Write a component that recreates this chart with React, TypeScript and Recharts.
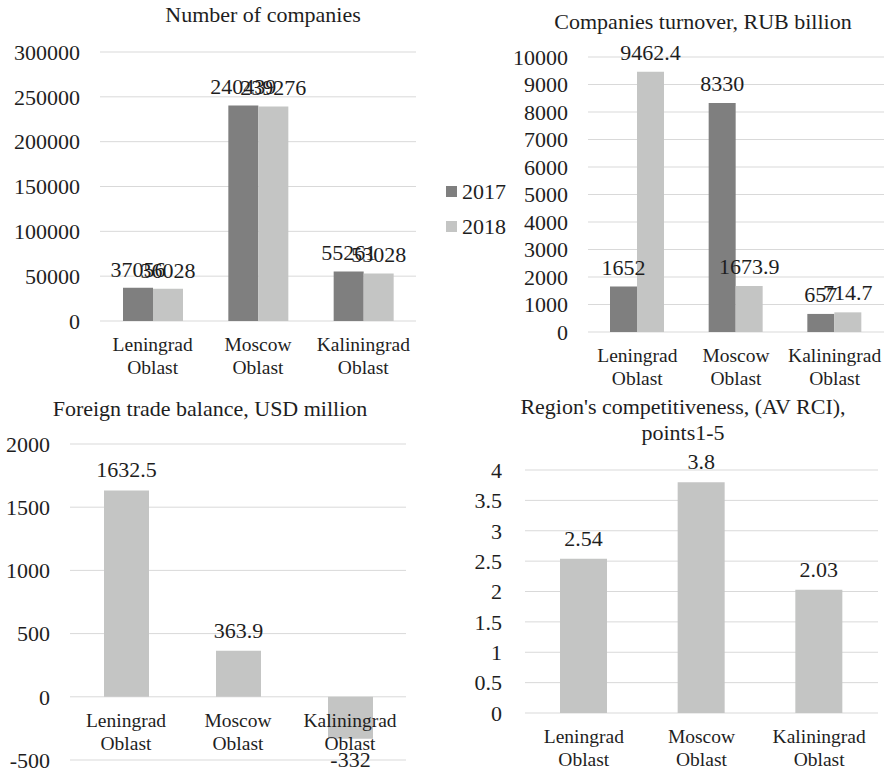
import { BarChart, Bar, XAxis, YAxis, CartesianGrid, LabelList, Legend } from 'recharts';

const regions = ['Leningrad Oblast', 'Moscow Oblast', 'Kaliningrad Oblast'];

const companies2017 = [37056, 240439, 55261];
const companies2018 = [36028, 239276, 53028];
const companiesTicks = [0, 50000, 100000, 150000, 200000, 250000, 300000];

const turnover2017 = [1652, 8330, 657];
const turnover2018 = [9462.4, 1673.9, 714.7];
const turnoverTicks = [0, 1000, 2000, 3000, 4000, 5000, 6000, 7000, 8000, 9000, 10000];

const tradeBalance = [1632.5, 363.9, -332];
const tradeTicks = [-500, 0, 500, 1000, 1500, 2000];

const competitiveness = [2.54, 3.8, 2.03];
const competitivenessTicks = [0, 0.5, 1, 1.5, 2, 2.5, 3, 3.5, 4];

const FONT = '"Liberation Serif", "Times New Roman", serif';
const TEXT = '#1e1e1e';
const DARK = '#7f7f7f';
const LIGHT = '#c4c5c4';
const GRID = '#d9d9d9';

const companiesData = regions.map((region, i) => ({
  region,
  y2017: companies2017[i],
  y2018: companies2018[i],
}));

const turnoverData = regions.map((region, i) => ({
  region,
  y2017: turnover2017[i],
  y2018: turnover2018[i],
}));

const tradeData = regions.map((region, i) => ({ region, value: tradeBalance[i] }));
const competitivenessData = regions.map((region, i) => ({ region, value: competitiveness[i] }));

// two-line category label; shift moves it up to the zero line
function RegionTick(props: any) {
  const { x, y, payload, shift = 0 } = props;
  const [first, second] = String(payload.value).split(' ');
  const top = y - shift;
  return (
    <text x={x} y={top} textAnchor="middle" fontSize={19.5} fill={TEXT} fontFamily={FONT}>
      <tspan x={x} y={top + 23} dy="0.35em">
        {first}
      </tspan>
      <tspan x={x} y={top + 46} dy="0.35em">
        {second}
      </tspan>
    </text>
  );
}

function YearLegend(props: any) {
  const { payload } = props;
  return (
    <div style={{ width: 64, fontFamily: FONT }}>
      {(payload || []).map((entry: any) => (
        <div
          key={entry.value}
          style={{ display: 'flex', alignItems: 'center', height: 35, fontSize: 22, color: TEXT }}
        >
          <span style={{ width: 11, height: 11, background: entry.color, marginRight: 5 }} />
          {entry.value}
        </div>
      ))}
    </div>
  );
}

function Title({ cx, cy, lines }: { cx: number; cy: number; lines: string[] }) {
  return (
    <div
      style={{
        position: 'absolute',
        left: cx - 220,
        top: cy - 13,
        width: 440,
        textAlign: 'center',
        fontFamily: FONT,
        fontSize: 22,
        lineHeight: '26px',
        color: TEXT,
        whiteSpace: 'nowrap',
      }}
    >
      {lines.map((l) => (
        <div key={l}>{l}</div>
      ))}
    </div>
  );
}

const tickStyle = { fontSize: 22, fill: TEXT, fontFamily: FONT };
const labelStyle = { fontSize: 22, fill: TEXT, fontFamily: FONT };

// trade balance chart geometry, used to put category labels on the zero line
const H3 = 383;
const M3 = { top: 54, right: 34, left: 0, bottom: 0 };
const X3_HEIGHT = 13;
const PLOT3_H = H3 - M3.top - M3.bottom - X3_HEIGHT;
const TRADE_SHIFT = (PLOT3_H * (0 - tradeTicks[0])) / (tradeTicks[tradeTicks.length - 1] - tradeTicks[0]);

export default function App() {
  return (
    <div
      style={{
        position: 'absolute',
        left: 0,
        top: 0,
        width: 887,
        height: 773,
        background: '#fff',
        overflow: 'hidden',
      }}
    >
      {/* Number of companies */}
      <Title cx={263} cy={15} lines={['Number of companies']} />
      <div style={{ position: 'absolute', left: 0, top: 0 }}>
        <BarChart
          width={440}
          height={390}
          data={companiesData}
          margin={{ top: 52, right: 24, left: 0, bottom: 0 }}
          barGap={0}
        >
          <CartesianGrid vertical={false} stroke={GRID} />
          <YAxis
            domain={[0, 300000]}
            ticks={companiesTicks}
            width={100}
            axisLine={false}
            tickLine={false}
            tickSize={0}
            tickMargin={20}
            tick={tickStyle}
            interval={0}
          />
          <Bar dataKey="y2017" name="2017" fill={DARK} barSize={30} isAnimationActive={false}>
            <LabelList dataKey="y2017" position="top" offset={11} style={labelStyle} />
          </Bar>
          <Bar dataKey="y2018" name="2018" fill={LIGHT} barSize={30} isAnimationActive={false}>
            <LabelList dataKey="y2018" position="top" offset={11} style={labelStyle} />
          </Bar>
          <XAxis
            dataKey="region"
            height={69}
            axisLine={false}
            tickLine={false}
            tickSize={0}
            tickMargin={0}
            interval={0}
            tick={<RegionTick />}
          />
        </BarChart>
      </div>

      {/* Companies turnover */}
      <Title cx={703} cy={22} lines={['Companies turnover, RUB billion']} />
      <div style={{ position: 'absolute', left: 440, top: 0 }}>
        <BarChart
          width={447}
          height={390}
          data={turnoverData}
          margin={{ top: 57, right: 3, left: 6, bottom: 0 }}
          barGap={0}
        >
          <CartesianGrid vertical={false} stroke={GRID} />
          <Legend
            layout="vertical"
            align="left"
            verticalAlign="middle"
            width={64}
            wrapperStyle={{ left: 6, top: 174 }}
            content={<YearLegend />}
          />
          <YAxis
            domain={[0, 10000]}
            ticks={turnoverTicks}
            width={78}
            axisLine={false}
            tickLine={false}
            tickSize={0}
            tickMargin={20}
            tick={tickStyle}
            interval={0}
          />
          <Bar dataKey="y2017" name="2017" fill={DARK} barSize={27} isAnimationActive={false}>
            <LabelList dataKey="y2017" position="top" offset={12} style={labelStyle} />
          </Bar>
          <Bar dataKey="y2018" name="2018" fill={LIGHT} barSize={27} isAnimationActive={false}>
            <LabelList dataKey="y2018" position="top" offset={12} style={labelStyle} />
          </Bar>
          <XAxis
            dataKey="region"
            height={58}
            axisLine={false}
            tickLine={false}
            tickSize={0}
            tickMargin={0}
            interval={0}
            tick={<RegionTick />}
          />
        </BarChart>
      </div>

      {/* Foreign trade balance */}
      <Title cx={210} cy={409} lines={['Foreign trade balance, USD million']} />
      <div style={{ position: 'absolute', left: 0, top: 390 }}>
        <BarChart width={440} height={H3} data={tradeData} margin={M3}>
          <CartesianGrid vertical={false} stroke={GRID} />
          <YAxis
            domain={[tradeTicks[0], tradeTicks[tradeTicks.length - 1]]}
            ticks={tradeTicks}
            width={70}
            axisLine={false}
            tickLine={false}
            tickSize={0}
            tickMargin={20}
            tick={tickStyle}
            interval={0}
          />
          <Bar dataKey="value" fill={LIGHT} barSize={45} isAnimationActive={false}>
            <LabelList dataKey="value" position="top" offset={13} style={labelStyle} />
          </Bar>
          <XAxis
            dataKey="region"
            height={X3_HEIGHT}
            axisLine={false}
            tickLine={false}
            tickSize={0}
            tickMargin={0}
            interval={0}
            tick={<RegionTick shift={TRADE_SHIFT} />}
          />
        </BarChart>
      </div>

      {/* Region's competitiveness */}
      <Title cx={683} cy={407} lines={["Region's competitiveness, (AV RCI),", 'points1-5']} />
      <div style={{ position: 'absolute', left: 440, top: 390 }}>
        <BarChart
          width={447}
          height={383}
          data={competitivenessData}
          margin={{ top: 80, right: 9, left: 0, bottom: 0 }}
        >
          <CartesianGrid vertical={false} stroke={GRID} />
          <YAxis
            domain={[0, 4]}
            ticks={competitivenessTicks}
            width={85}
            axisLine={false}
            tickLine={false}
            tickSize={0}
            tickMargin={23}
            tick={tickStyle}
            interval={0}
          />
          <Bar dataKey="value" fill={LIGHT} barSize={47} isAnimationActive={false}>
            <LabelList dataKey="value" position="top" offset={13} style={labelStyle} />
          </Bar>
          <XAxis
            dataKey="region"
            height={60}
            axisLine={false}
            tickLine={false}
            tickSize={0}
            tickMargin={0}
            interval={0}
            tick={<RegionTick />}
          />
        </BarChart>
      </div>
    </div>
  );
}
